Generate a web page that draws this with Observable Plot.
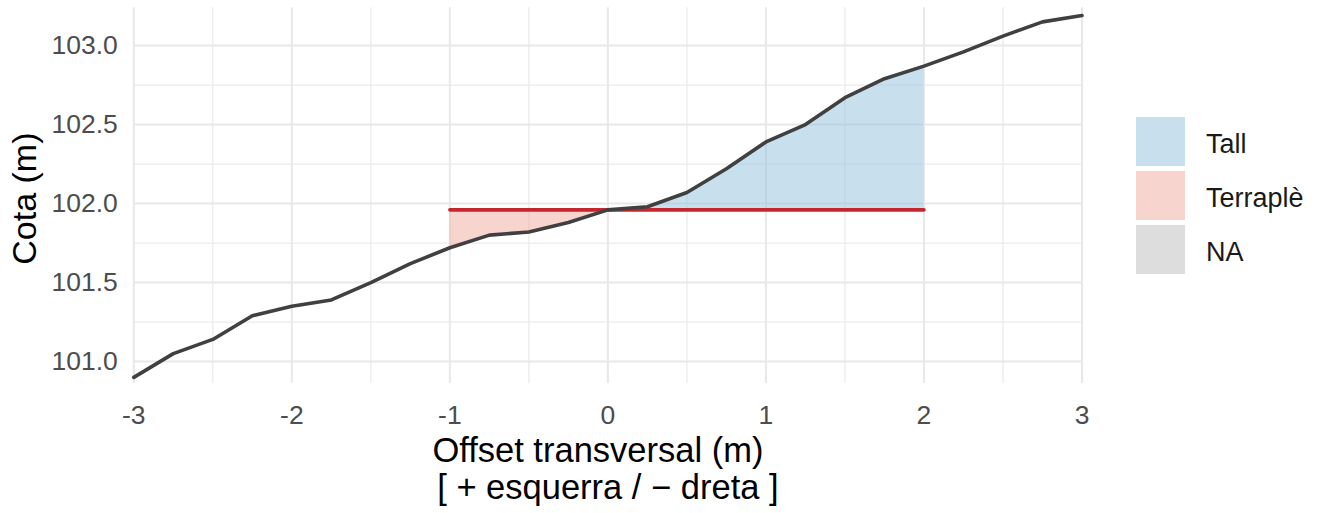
<!DOCTYPE html>
<html>
<head>
<meta charset="utf-8">
<script src="https://cdn.jsdelivr.net/npm/d3@7"></script>
<script src="https://cdn.jsdelivr.net/npm/@observablehq/plot@0.6"></script>
<style>
  html, body { margin: 0; padding: 0; background: #ffffff; }
  #wrap { position: relative; width: 1325px; height: 513px; font-family: "Liberation Sans", Arial, sans-serif; }
  #wrap svg { display: block; }
  g[aria-label$="tick label"] text, g[aria-label$="tick label"] { fill: #4d4d4d; }
  #legend { position: absolute; left: 1136px; top: 114.5px; }
  .item { display: flex; align-items: center; height: 54px; }
  .sw { width: 49px; height: 49px; margin-right: 21px; }
  .lab { font-size: 27px; color: #1a1a1a; padding-top: 6px; }
</style>
</head>
<body>
<div id="wrap"></div>
<script>
// ---- data ----
const offsets = [-3, -2.75, -2.5, -2.25, -2, -1.75, -1.5, -1.25, -1, -0.75, -0.5, -0.25,
                 0, 0.25, 0.5, 0.75, 1, 1.25, 1.5, 1.75, 2, 2.25, 2.5, 2.75, 3];
const elevations = [100.90, 101.05, 101.14, 101.29, 101.35, 101.39, 101.50, 101.62, 101.72, 101.80, 101.82, 101.88,
                    101.96, 101.98, 102.07, 102.22, 102.39, 102.50, 102.67, 102.79, 102.87, 102.96, 103.06, 103.15, 103.19];
const platformFrom = -1;
const platformTo = 2;
const platformElev = 101.96;
const categories = ["Tall", "Terraplè", "NA"];
const categoryColors = ["#91c1dd", "#f1a99f", "#bbbbbb"];
const xTicks = [-3, -2, -1, 0, 1, 2, 3];
const xMinor = [-2.5, -1.5, -0.5, 0.5, 1.5, 2.5];
const yTicks = [101.0, 101.5, 102.0, 102.5, 103.0];
const yMinor = [101.25, 101.75, 102.25, 102.75];
const yDomain = [100.861, 103.239];
const xTitle = "Offset transversal (m)";
const xSubtitle = "[ + esquerra / − dreta ]";
const yTitle = "Cota (m)";

// ---- build tables ----
const profile = offsets.map((x, i) => ({x, y: elevations[i]}));
const platform = [{x: platformFrom, y: platformElev}, {x: platformTo, y: platformElev}];

const inside = profile.filter(p => p.x >= platformFrom && p.x <= platformTo);
const areaRows = [];
let run = 0, prevType = null;
function pushPiece(p, q, type) {
  if (type !== prevType) { run++; prevType = type; areaRows.push({...p, type, run}); }
  areaRows.push({...q, type, run});
}
for (let i = 0; i < inside.length - 1; i++) {
  const a = inside[i], b = inside[i + 1];
  const da = a.y - platformElev, db = b.y - platformElev;
  if (da * db < 0) {
    const t = da / (da - db);
    const c = {x: a.x + t * (b.x - a.x), y: platformElev};
    pushPiece(a, c, da > 0 ? "Tall" : "Terraplè");
    pushPiece(c, b, db > 0 ? "Tall" : "Terraplè");
  } else {
    pushPiece(a, b, (da + db) >= 0 ? "Tall" : "Terraplè");
  }
}

const plot = Plot.plot({
  width: 1325,
  height: 513,
  marginLeft: 133.3,
  marginRight: 243.5,
  marginTop: 7.3,
  marginBottom: 130,
  style: {fontFamily: "'Liberation Sans', Arial, sans-serif", background: "#ffffff"},
  x: {domain: [-3, 3]},
  y: {domain: yDomain},
  color: {domain: categories, range: categoryColors},
  marks: [
    Plot.gridX(xMinor, {stroke: "#ebebeb", strokeOpacity: 1, strokeWidth: 1.3}),
    Plot.gridY(yMinor, {stroke: "#ebebeb", strokeOpacity: 1, strokeWidth: 1.3}),
    Plot.gridX(xTicks, {stroke: "#e8e8e8", strokeOpacity: 1, strokeWidth: 2}),
    Plot.gridY(yTicks, {stroke: "#e8e8e8", strokeOpacity: 1, strokeWidth: 2}),
    Plot.areaY(areaRows, {x: "x", y1: platformElev, y2: "y", z: "run", fill: "type", fillOpacity: 0.5}),
    Plot.line(platform, {x: "x", y: "y", stroke: "#c4262e", strokeWidth: 3.6}),
    Plot.line(profile, {x: "x", y: "y", stroke: "#404040", strokeWidth: 3.6}),
    Plot.axisX(xTicks, {tickSize: 0, tickPadding: 22, fontSize: 26.5, label: null, tickFormat: d => String(d)}),
    Plot.axisY(yTicks, {tickSize: 0, tickPadding: 16, fontSize: 26.5, label: null, tickFormat: d => d.toFixed(1)}),
    Plot.text([xTitle], {frameAnchor: "bottom", textAnchor: "middle", lineAnchor: "bottom", dy: 78.7, dx: -10, fontSize: 34.5, fill: "#000000"}),
    Plot.text([xSubtitle], {frameAnchor: "bottom", textAnchor: "middle", lineAnchor: "bottom", dy: 115, dx: 0, fontSize: 34.5, fill: "#000000"}),
    Plot.text([yTitle], {frameAnchor: "left", textAnchor: "middle", lineAnchor: "bottom", rotate: -90, dx: -98, dy: 3, fontSize: 34, fill: "#000000"})
  ]
});

const wrap = document.getElementById("wrap");
wrap.appendChild(plot);

const legend = document.createElement("div");
legend.id = "legend";
categories.forEach((c, i) => {
  const item = document.createElement("div");
  item.className = "item";
  const sw = document.createElement("div");
  sw.className = "sw";
  sw.style.background = categoryColors[i];
  sw.style.opacity = 0.5;
  const lab = document.createElement("div");
  lab.className = "lab";
  lab.textContent = c;
  item.appendChild(sw);
  item.appendChild(lab);
  legend.appendChild(item);
});
wrap.appendChild(legend);
</script>
</body>
</html>
